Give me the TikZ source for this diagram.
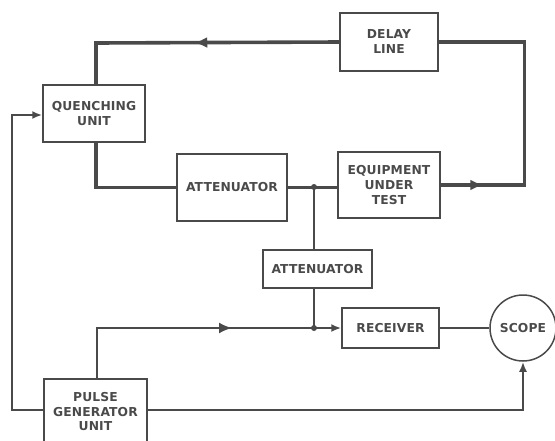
\documentclass[tikz,border=0pt]{standalone}
\usepackage{fontspec}
\setmainfont{DejaVu Sans Bold}[LetterSpace=1]
\usetikzlibrary{arrows.meta,decorations.markings,calc}
\definecolor{ink}{HTML}{4A4A4A}
\tikzset{
  blk/.style={draw=ink,line width=1.5pt,text=ink,align=center,inner sep=0pt,
    font=\fontsize{12.3}{15}\selectfont},
  heavyblk/.style={blk,line width=2.6pt},
  wire/.style={draw=ink,line width=2pt},
  heavy/.style={draw=ink,line width=3.6pt},
  tip/.style={-{Latex[length=10pt,width=8pt]}},
  midarrow/.style={postaction={decorate},decoration={markings,
    mark=at position #1 with {\arrow{Latex[length=13pt,width=11pt]}}}},
  dot/.style={circle,fill=ink,inner sep=0pt,minimum size=6pt}
}
\begin{document}
\begin{tikzpicture}[x=1pt,y=-1pt]
\useasboundingbox (0,0) rectangle (555,440);
\node[blk,minimum width=102pt,minimum height=57pt] (qu) at (94,113.5) {QUENCHING\\UNIT};
\node[blk,minimum width=98pt,minimum height=58pt] (dl) at (389,42) {DELAY\\LINE};
\node[blk,minimum width=110pt,minimum height=67pt] (att1) at (232,187.5) {ATTENUATOR};
\node[heavyblk,minimum width=102pt,minimum height=66pt] (eut) at (389,185) {EQUIPMENT\\UNDER\\TEST};
\node[blk,minimum width=109pt,minimum height=38pt] (att2) at (317.5,269) {ATTENUATOR};
\node[blk,minimum width=97pt,minimum height=40pt] (rx) at (390.5,328) {RECEIVER};
\node[blk,circle,minimum size=66pt] (scope) at (523,328) {SCOPE};
\node[blk,minimum width=103pt,minimum height=68pt,anchor=north] (pgu) at (95.5,378) {};
\node[text=ink,align=center,font=\fontsize{12.3}{14.5}\selectfont,anchor=north] (pgut) at (95.5,389) {PULSE\\GENERATOR\\UNIT};
\coordinate (j1) at (314,187);
\coordinate (j2) at (314,328);
\coordinate (tl) at (96,43);
% main loop
\draw[heavy,midarrow=145pt] (dl.west) -- (tl) -- (tl |- qu.north);
\draw[heavy,midarrow=42pt] (eut.east) -- ++(83,0) coordinate (rc) -- (rc |- dl.east) -- (dl.east);
\draw[heavy] (tl |- qu.south) |- (att1.west);
\draw[heavy] (att1.east) -- (att1.east -| eut.west);
% attenuator tap
\draw[wire] (j1) -- (j1 |- att2.north);
\draw[wire] (j1 |- att2.south) -- (j2);
\node[dot] (d1) at (j1) {};
% pulse to receiver
\draw[wire,tip,midarrow=185pt] (pgu.north -| 97,0) |- (rx.west);
\node[dot] (d2) at (j2) {};
\draw[wire] (rx.east) -- (scope.west);
% pulse to scope
\draw[wire,tip] (pgu.east |- 0,410) -| (scope.south);
% pulse to quenching
\draw[wire,tip] (pgu.west |- 0,410) -- (12,410) |- (qu.west |- 0,115);
\end{tikzpicture}
\end{document}
